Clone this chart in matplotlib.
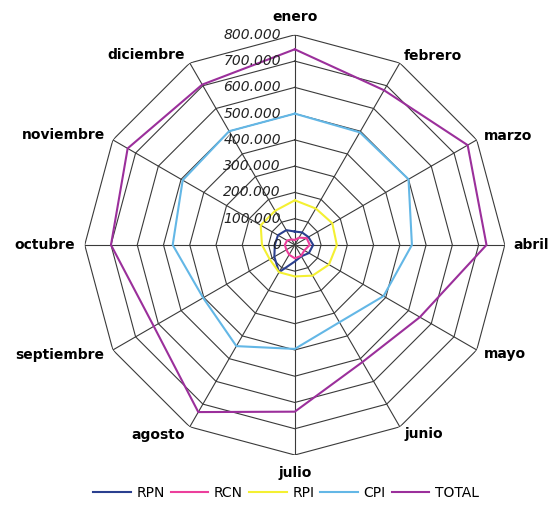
import numpy as np
import matplotlib
matplotlib.use("Agg")
import matplotlib.pyplot as plt

months = ["enero", "febrero", "marzo", "abril", "mayo", "junio",
          "julio", "agosto", "septiembre", "octubre", "noviembre", "diciembre"]

# monthly values per series
rpn = [51000, 55000, 60000, 70000, 62000, 50000, 63000, 120000, 90000, 76000, 74000, 65000]
rcn = [19000, 32000, 52000, 57000, 42000, 48000, 51000, 43000, 37000, 38000, 34000, 24000]
rpi = [170000, 160000, 165000, 160000, 150000, 135000, 120000, 120000, 110000, 125000, 150000, 150000]
cpi = [500000, 495000, 500000, 446000, 390000, 340000, 396000, 445000, 403000, 465000, 493000, 500000]
total = [745000, 680000, 760000, 730000, 550000, 515000, 635000, 735000, 620000, 700000, 735000, 705000]

series_names = ["RPN", "RCN", "RPI", "CPI", "TOTAL"]
series_colors = ["#2a3f8f", "#ec3f9c", "#f4f032", "#63b7e6", "#9b2f9b"]

ring_values = [100000, 200000, 300000, 400000, 500000, 600000, 700000, 800000]
ring_labels = ["100.000", "200.000", "300.000", "400.000",
               "500.000", "600.000", "700.000", "800.000"]
rmax = 800000

n = len(months)
theta = np.arange(n) * 2 * np.pi / n
theta_closed = np.append(theta, theta[0])

fig = plt.figure(figsize=(5.5, 5.05), dpi=100, facecolor="white")
ax = fig.add_axes([0.154, 0.099, 0.764, 0.832], projection="polar")
ax.set_theta_zero_location("N")
ax.set_theta_direction(-1)
ax.set_ylim(0, rmax)
ax.grid(False)
ax.spines["polar"].set_visible(False)
ax.set_xticks([])
ax.set_yticks([])

grid_color = "#3a3a3a"
# polygon rings
for rv in ring_values:
    ax.plot(theta_closed, [rv] * (n + 1), color=grid_color, lw=0.8, zorder=1)
# spokes
for t in theta:
    ax.plot([t, t], [0, rmax], color=grid_color, lw=0.8, zorder=1)

# radial value labels along the enero spoke
for rv, lab in zip([0] + ring_values, ["0"] + ring_labels):
    ax.annotate(lab, xy=(0, rv), xytext=(-10, 0), textcoords="offset points",
                ha="right", va="center", fontsize=10, style="italic",
                color="#222222", zorder=5)

# series lines
for vals, name, col in zip([rpn, rcn, rpi, cpi, total], series_names, series_colors):
    ax.plot(theta_closed, vals + vals[:1], color=col, lw=1.5, label=name, zorder=3)

# month labels around the outside
for t, m in zip(theta, months):
    deg = np.degrees(t)
    if deg == 0 or deg == 180:
        ha, rr = "center", rmax * 1.085
    elif deg < 180:
        ha, rr = "left", rmax * 1.04
    else:
        ha, rr = "right", rmax * 1.045
    ax.text(t, rr, m, ha=ha, va="center", fontsize=10, fontweight="bold")

fig.legend(loc="lower center", bbox_to_anchor=(0.52, -0.015), ncol=5,
           frameon=False, fontsize=10, handlelength=2.7, columnspacing=0.45,
           handletextpad=0.4)

fig.savefig("out.png", dpi=100, facecolor="white")
